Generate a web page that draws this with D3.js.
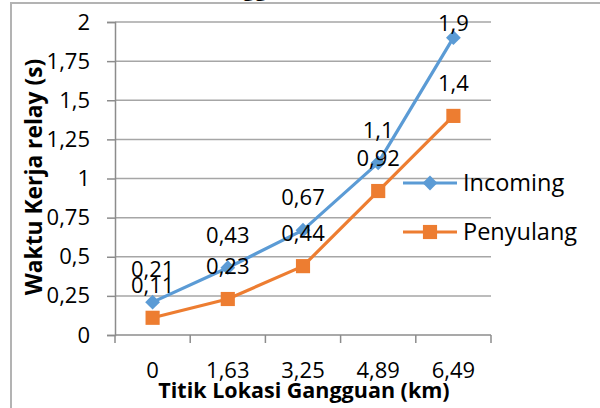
<!DOCTYPE html>
<html>
<head>
<meta charset="utf-8">
<script src="https://cdn.jsdelivr.net/npm/d3@7"></script>
<style>
  html, body { margin: 0; padding: 0; background: #fff; }
  svg { display: block; }
  text { font-family: "Open Sans", "Noto Sans", sans-serif; fill: #000; }
</style>
</head>
<body>
<svg id="chart" width="600" height="408"></svg>
<script>
// Fault locations (km) along the feeder
const categories = ["0", "1,63", "3,25", "4,89", "6,49"];
// Relay operating time (s)
const incoming = [0.21, 0.43, 0.67, 1.1, 1.9];
const penyulang = [0.11, 0.23, 0.44, 0.92, 1.4];
const yTicks = [0, 0.25, 0.5, 0.75, 1, 1.25, 1.5, 1.75, 2];
const yTickLabels = ["0", "0,25", "0,5", "0,75", "1", "1,25", "1,5", "1,75", "2"];
const seriesNames = ["Incoming", "Penyulang"];

const fmt = v => String(v).replace(".", ",");

const svg = d3.select("#chart");
const W = 600, H = 408;
const plot = { left: 115, right: 491, top: 22, bottom: 335 };

const blue = "#5B9BD5", orange = "#ED7D31";
const gridColor = "#a6a6a6", axisColor = "#8c8c8c";

// square diamond marker (equal diagonals)
const symbolRhombus = {
  draw(ctx, size) {
    const r = Math.sqrt(size / 2);
    ctx.moveTo(0, -r);
    ctx.lineTo(r, 0);
    ctx.lineTo(0, r);
    ctx.lineTo(-r, 0);
    ctx.closePath();
  }
};

// chart frame
svg.append("rect")
  .attr("x", 11).attr("y", 3)
  .attr("width", W + 50).attr("height", H + 50)
  .attr("fill", "#fff")
  .attr("stroke", "#b3b3b3").attr("stroke-width", 2);

// chart title (sits above the frame)
svg.append("text")
  .attr("x", 199).attr("y", -4)
  .attr("font-size", 22).attr("font-weight", "bold")
  .text("Gangguan");

const x = d3.scaleBand().domain(categories).range([plot.left, plot.right]).padding(0);
const y = d3.scaleLinear().domain([0, 2]).range([plot.bottom, plot.top]);
const cx = c => x(c) + x.bandwidth() / 2;

// horizontal gridlines + y axis
const yAxis = d3.axisLeft(y)
  .tickValues(yTicks)
  .tickSize(8)
  .tickPadding(17)
  .tickFormat((d, i) => yTickLabels[i]);

svg.append("g")
  .selectAll("line.grid")
  .data(yTicks.filter(d => d > 0))
  .join("line")
  .attr("x1", plot.left).attr("x2", plot.right)
  .attr("y1", d => y(d)).attr("y2", d => y(d))
  .attr("stroke", gridColor).attr("stroke-width", 1.5);

const gy = svg.append("g")
  .attr("transform", `translate(${plot.left},0)`)
  .call(yAxis);
gy.select(".domain").attr("stroke", axisColor).attr("stroke-width", 1.5);
gy.selectAll(".tick line").attr("stroke", axisColor).attr("stroke-width", 1.5);
gy.selectAll(".tick text")
  .attr("font-family", "'Open Sans', sans-serif")
  .attr("font-size", 22).attr("fill", "#000");

// x axis with ticks on category boundaries
const gx = svg.append("g")
  .attr("transform", `translate(0,${plot.bottom})`);
gx.append("line")
  .attr("x1", plot.left).attr("x2", plot.right)
  .attr("stroke", axisColor).attr("stroke-width", 1.5);
const bounds = categories.map(c => x(c)).concat([x(categories[categories.length - 1]) + x.bandwidth()]);
gx.selectAll("line.tk")
  .data(bounds)
  .join("line")
  .attr("class", "tk")
  .attr("x1", d => d).attr("x2", d => d)
  .attr("y1", 0).attr("y2", 8)
  .attr("stroke", axisColor).attr("stroke-width", 1.5);
gx.selectAll("text")
  .data(categories)
  .join("text")
  .attr("x", d => cx(d))
  .attr("y", 43)
  .attr("text-anchor", "middle")
  .attr("font-size", 22)
  .text(d => d);

// axis titles
svg.append("text")
  .attr("x", (plot.left + plot.right) / 2 + 1).attr("y", 398)
  .attr("text-anchor", "middle")
  .attr("font-size", 21.5).attr("font-weight", "bold")
  .text("Titik Lokasi Gangguan (km)");

svg.append("text")
  .attr("transform", "translate(42,177) rotate(-90)")
  .attr("text-anchor", "middle")
  .attr("font-size", 22.8).attr("font-weight", "bold")
  .text("Waktu Kerja relay (s)");

// series
const line = d3.line().x((d, i) => cx(categories[i])).y(d => y(d));
const series = [
  { name: seriesNames[0], values: incoming, color: blue, symbol: symbolRhombus, size: 110 },
  { name: seriesNames[1], values: penyulang, color: orange, symbol: d3.symbolSquare, size: 200 }
];

series.forEach(s => {
  svg.append("path")
    .datum(s.values)
    .attr("d", line)
    .attr("fill", "none")
    .attr("stroke", s.color)
    .attr("stroke-width", 3.2)
    .attr("stroke-linejoin", "round");
  svg.append("g")
    .selectAll("path")
    .data(s.values)
    .join("path")
    .attr("transform", (d, i) => `translate(${cx(categories[i])},${y(d)})`)
    .attr("d", d3.symbol().type(s.symbol).size(s.size))
    .attr("fill", s.color);
});

// data labels above each point
series.forEach(s => {
  svg.append("g")
    .selectAll("text")
    .data(s.values)
    .join("text")
    .attr("x", (d, i) => cx(categories[i]))
    .attr("y", d => Math.max(y(d) - 25, 31))
    .attr("text-anchor", "middle")
    .attr("font-size", 22)
    .text(d => fmt(d));
});

// legend
const legend = svg.append("g");
const legendRows = [183, 232];
series.forEach((s, i) => {
  const g = legend.append("g").attr("transform", `translate(0,${legendRows[i]})`);
  g.append("line")
    .attr("x1", 403).attr("x2", 457)
    .attr("stroke", s.color).attr("stroke-width", 3.2);
  g.append("path")
    .attr("transform", "translate(430,0)")
    .attr("d", d3.symbol().type(s.symbol).size(s.size))
    .attr("fill", s.color);
  g.append("text")
    .attr("x", 463).attr("y", 8)
    .attr("font-size", 23.5)
    .text(s.name);
});
</script>
</body>
</html>
